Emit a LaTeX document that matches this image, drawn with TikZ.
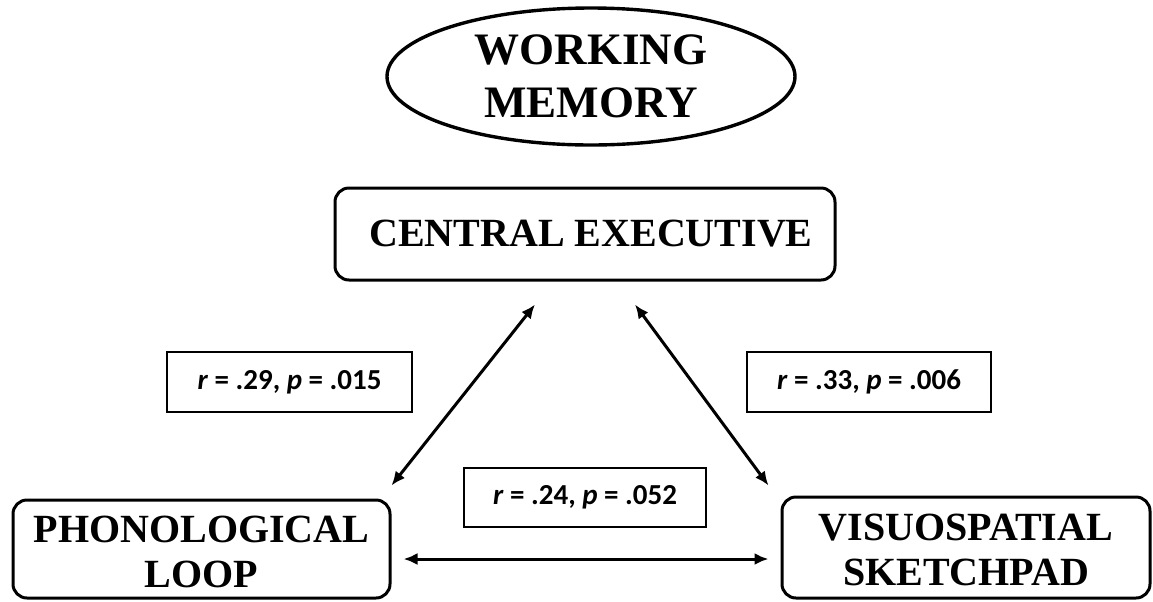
\documentclass[tikz,border=0pt]{standalone}
\usepackage{fontspec}
\setmainfont{Liberation Serif}
\newfontfamily\statfont{Carlito}
\usepackage{tikz}
\usetikzlibrary{shapes,arrows.meta,positioning,calc}
\tikzset{>={Latex[length=7pt,width=6pt]}}
\tikzset{
  comp/.style={draw,line width=1.5pt,rounded corners=7pt,align=center,inner sep=0pt,
    font=\fontsize{20}{22.5}\selectfont\bfseries},
  stat/.style={draw,line width=1.4pt,inner sep=0pt,minimum height=30pt,
    font=\statfont\fontsize{14.5}{16}\selectfont\bfseries},
  link/.style={<->,line width=1.5pt}
}
\newcommand{\rp}[2]{\textit{r} = #1, \textit{p} = #2}

\begin{document}
\begin{tikzpicture}[x=0.5pt,y=-0.5pt]
    \useasboundingbox (0,0) rectangle (1153,601);
    % the model and its three parts
    \node [draw,ellipse,line width=1.7pt,inner sep=0pt,minimum width=204pt,minimum height=68.5pt,align=center,
      font=\fontsize{22.5}{26.5}\selectfont\bfseries] (wm) at (591,76.5) {WORKING\\MEMORY};
    \node [comp,minimum width=250pt,minimum height=46pt] (ce) at (585,234) {\hspace{6pt}CENTRAL EXECUTIVE};
    \node [comp,minimum width=188.5pt,minimum height=49pt] (pl) at (201.5,549) {\rule{0pt}{16pt}PHONOLOGICAL\\LOOP};
    \node [comp,minimum width=184pt,minimum height=50.5pt] (vs) at (966,547.5) {\rule{0pt}{16pt}VISUOSPATIAL\\SKETCHPAD};

    % correlations
    \node [stat,minimum width=122.5pt] (s1) at (289.5,382) {\rp{.29}{.015}};
    \node [stat,minimum width=122pt] (s2) at (869,382) {\rp{.33}{.006}};
    \node [stat,minimum width=121pt,minimum height=29.5pt] (s3) at (585,497.5) {\rp{.24}{.052}};

    \draw [link] ($(ce.south)+(-50,23)$) -- ($(pl.north east)+(0,-13)$);
    \draw [link] ($(ce.south)+(50,23)$) -- ($(vs.north west)+(-12,-10)$);
    \draw [link] ($(pl.east)+(12,10)$) -- ($(vs.west)+(-12,11.5)$);
\end{tikzpicture}
\end{document}
